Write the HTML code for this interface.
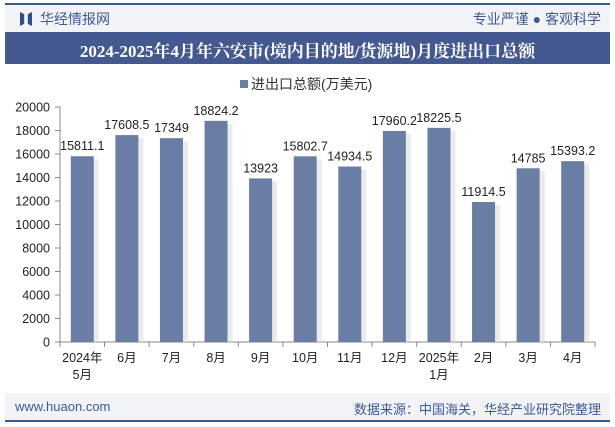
<!DOCTYPE html>
<html><head><meta charset="utf-8"><style>
body{margin:0;width:615px;height:427px;background:#fff;font-family:"Liberation Sans","Noto Sans CJK SC",sans-serif;overflow:hidden;position:relative}
.a{position:absolute}
</style></head><body>
<div class="a" style="left:5px;top:3px;width:605px;height:2px;background:#3d5a92"></div>
<div class="a" style="left:5px;top:5px;width:605px;height:27px;background:#f2f3f7"></div>
<div class="a" style="left:20px;top:12px;width:12px;height:14px;background:#2f4f8a;clip-path:polygon(0 0,35% 15%,35% 85%,0 100%,0 0,100% 0,100% 100%,65% 85%,65% 15%,100% 0)"></div>
<div class="a" style="left:40px;top:9px;font-size:14px;color:#3d5a92">华经情报网</div>
<div class="a" style="right:14px;top:9px;font-size:14px;color:#3d5a92">专业严谨 ● 客观科学</div>
<div class="a" style="left:5px;top:32px;width:605px;height:32px;background:#44598f"></div>
<div class="a" style="left:5px;top:37px;width:605px;text-align:center;font-size:17px;font-weight:bold;color:#fff;font-family:'Liberation Serif','Noto Serif CJK SC',serif">2024-2025年4月年六安市(境内目的地/货源地)月度进出口总额</div>
<div class="a" style="left:240px;top:74px;font-size:14px;color:#333"><span style="display:inline-block;width:8px;height:8px;background:#6a7ea5;margin-right:3px;vertical-align:1px"></span>进出口总额(万美元)</div>
<div class="a" style="left:5px;top:393px;width:605px;height:27px;background:#f2f3f7"></div>
<div class="a" style="left:5px;top:420px;width:605px;height:2px;background:#3d5a92"></div>
<div class="a" style="left:15px;top:399px;font-size:13px;color:#3d5a92">www.huaon.com</div>
<div class="a" style="right:14px;top:399px;font-size:13px;color:#3d5a92">数据来源：中国海关，华经产业研究院整理</div>
<svg class="a" style="left:0;top:0" width="615" height="427" id="chart"></svg>
<script>
const categories=["2024年\n5月","6月","7月","8月","9月","10月","11月","12月","2025年\n1月","2月","3月","4月"];
const values=[15811.1,17608.5,17349,18824.2,13923,15802.7,14934.5,17960.2,18225.5,11914.5,14785,15393.2];
const labels=["15811.1","17608.5","17349","18824.2","13923","15802.7","14934.5","17960.2","18225.5","11914.5","14785","15393.2"];
const yTicks=[0,2000,4000,6000,8000,10000,12000,14000,16000,18000,20000];
const svg=document.getElementById('chart');const NS='http://www.w3.org/2000/svg';
const x0=60,x1=595,y0=342,yTop=107,yMax=20000;
const slot=(x1-x0)/categories.length;
const Y=v=>y0-(v/yMax)*(y0-yTop);
const X=i=>x0+slot*(i+0.5);
function mk(t,a){const e=document.createElementNS(NS,t);for(const k in a)e.setAttribute(k,a[k]);svg.appendChild(e);return e;}
let ax=mk('line',{x1:x0,y1:yTop,x2:x0,y2:y0,stroke:'#888'});

let bx=mk('line',{x1:x0,y1:y0,x2:x1,y2:y0,stroke:'#888'});

yTicks.forEach(v=>{
  mk('line',{x1:x0-5,x2:x0,y1:Y(v),y2:Y(v),stroke:'#888'});
  const t=mk('text',{x:x0-10,y:Y(v)+4.5,'text-anchor':'end','font-size':12.5,fill:'#222'});t.textContent=v;
  
});
for(let i=0;i<=categories.length;i++)mk('line',{x1:x0+slot*i,x2:x0+slot*i,y1:y0,y2:y0+5,stroke:'#888'});
values.forEach((v,i)=>{
  const cx=X(i),w=23;
  const r=mk('rect',{x:cx-w/2+5,y:Y(v)+3,width:w,height:y0-Y(v)-3,fill:'#ddd',opacity:0.6});
  const b=mk('rect',{x:cx-w/2,y:Y(v),width:w,height:y0-Y(v),fill:'#6a7ea5'});
  
  const t=mk('text',{x:cx,y:Y(v)-6,'text-anchor':'middle','font-size':12.5,fill:'#222'});t.textContent=labels[i];
  
  categories[i].split('\n').forEach((s,j)=>{
    const c=mk('text',{x:cx,y:y0+20+j*17,'text-anchor':'middle','font-size':12.5,fill:'#222'});c.textContent=s;
    
  });
});
</script>
</body></html>
